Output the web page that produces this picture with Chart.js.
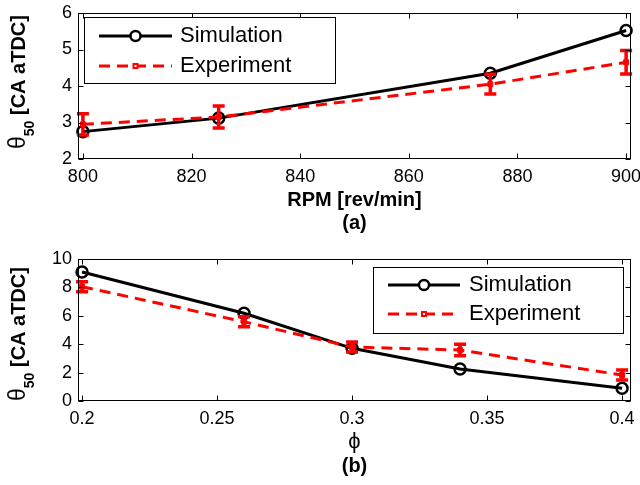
<!DOCTYPE html>
<html>
<head>
<meta charset="utf-8">
<script src="https://cdn.jsdelivr.net/npm/chart.js@4"></script>
<style>
  body { margin: 0; background: #fff; }
  canvas { display: block; }
</style>
</head>
<body>
<canvas id="chartA" width="640" height="240"></canvas>
<canvas id="chartB" width="640" height="245"></canvas>
<script>
// (a) theta50 vs engine speed
const rpm = [800, 825, 875, 900];
const simA = [2.75, 3.12, 4.35, 5.52];
const expA = [2.95, 3.15, 4.05, 4.65];
const errA = [0.29, 0.30, 0.27, 0.32];
const rpmTicks = [800, 820, 840, 860, 880, 900];
const thetaTicksA = [2, 3, 4, 5, 6];

// (b) theta50 vs equivalence ratio
const phi = [0.2, 0.26, 0.3, 0.34, 0.4];
const simB = [9.08, 6.18, 3.71, 2.25, 0.9];
const expB = [8.05, 5.58, 3.8, 3.59, 1.83];
const errB = [0.35, 0.35, 0.35, 0.4, 0.35];
const phiTicks = [0.2, 0.25, 0.3, 0.35, 0.4];
const thetaTicksB = [0, 2, 4, 6, 8, 10];

const seriesNames = ['Simulation', 'Experiment'];
const FONT = "'Liberation Sans', Arial, Helvetica, sans-serif";
Chart.defaults.font.family = FONT;
Chart.defaults.color = '#000';

// frame, inward ticks, error bars, legend box and axis titles
function decor(o) {
  return {
    id: 'decor',
    afterDatasetsDraw(chart) {
      const { ctx, scales: { x, y } } = chart;
      ctx.save();
      ctx.strokeStyle = '#ff0000';
      ctx.lineWidth = 3.5;
      o.xs.forEach((xv, i) => {
        const px = x.getPixelForValue(xv);
        const t = y.getPixelForValue(o.ys[i] + o.err[i]);
        const b = y.getPixelForValue(o.ys[i] - o.err[i]);
        ctx.beginPath();
        ctx.moveTo(px, t); ctx.lineTo(px, b);
        ctx.moveTo(px - 6, t); ctx.lineTo(px + 6, t);
        ctx.moveTo(px - 6, b); ctx.lineTo(px + 6, b);
        ctx.stroke();
      });
      ctx.restore();
    },
    afterDraw(chart) {
      const { ctx, chartArea: a, scales: { x, y } } = chart;
      ctx.save();
      ctx.strokeStyle = '#000';
      ctx.lineWidth = 1;
      const L = Math.round(a.left) + 0.5, R = Math.round(a.right) - 0.5;
      const T = Math.round(a.top) + 0.5, B = Math.round(a.bottom) - 0.5;
      ctx.strokeRect(L, T, R - L, B - T);
      ctx.beginPath();
      x.ticks.forEach(t => {
        const p = Math.round(x.getPixelForValue(t.value)) + 0.5;
        ctx.moveTo(p, B); ctx.lineTo(p, B - 5);
        ctx.moveTo(p, T); ctx.lineTo(p, T + 5);
      });
      y.ticks.forEach(t => {
        const p = Math.round(y.getPixelForValue(t.value)) + 0.5;
        ctx.moveTo(L, p); ctx.lineTo(L + 5, p);
        ctx.moveTo(R, p); ctx.lineTo(R - 5, p);
      });
      ctx.stroke();

      // legend
      const g = o.legend;
      ctx.fillStyle = '#fff';
      ctx.fillRect(g.x, g.y, g.w, g.h);
      ctx.strokeRect(g.x + 0.5, g.y + 0.5, g.w, g.h);
      ctx.lineWidth = 3;
      ctx.strokeStyle = '#000';
      ctx.beginPath();
      ctx.moveTo(g.lx0, g.r1); ctx.lineTo(g.lx1, g.r1);
      ctx.stroke();
      ctx.lineWidth = 2.5;
      ctx.fillStyle = '#fff';
      ctx.beginPath();
      ctx.arc((g.lx0 + g.lx1) / 2, g.r1, 5, 0, Math.PI * 2);
      ctx.fill(); ctx.stroke();
      ctx.strokeStyle = '#ff0000';
      ctx.lineWidth = 3;
      ctx.setLineDash([11, 7]);
      ctx.beginPath();
      ctx.moveTo(g.lx0, g.r2); ctx.lineTo(g.lx1, g.r2);
      ctx.stroke();
      ctx.setLineDash([]);
      ctx.lineWidth = 1;
      const mx = (g.lx0 + g.lx1) / 2;
      ctx.fillStyle = '#ff0000';
      ctx.fillRect(mx - 3, g.r2 - 3, 6, 6);
      ctx.fillStyle = '#fff';
      ctx.fillRect(mx - 1, g.r2 - 1, 2, 2);
      ctx.fillStyle = '#000';
      ctx.font = '22px ' + FONT;
      ctx.textBaseline = 'middle';
      ctx.textAlign = 'left';
      ctx.fillText(seriesNames[0], g.tx, g.r1);
      ctx.fillText(seriesNames[1], g.tx, g.r2);

      // x title and panel tag
      const cx = (a.left + a.right) / 2;
      ctx.textAlign = 'center';
      ctx.font = o.xBold ? 'bold 20px ' + FONT : '22px ' + FONT;
      ctx.fillText(o.xTitle, cx, o.xTitleY);
      ctx.font = 'bold 20px ' + FONT;
      ctx.fillText(o.tag, cx, o.tagY);

      // y title: theta with bold subscript 50
      const cy = (a.top + a.bottom) / 2 + o.yShift;
      const parts = [
        { s: '\u03b8', f: '23px ' + FONT, d: 0 },
        { s: '50', f: 'bold 14px ' + FONT, d: 9 },
        { s: ' [CA aTDC]', f: 'bold 20px ' + FONT, d: 0 }
      ];
      let w = 0;
      parts.forEach(p => { ctx.font = p.f; p.w = ctx.measureText(p.s).width; w += p.w; });
      ctx.translate(25, cy);
      ctx.rotate(-Math.PI / 2);
      ctx.textAlign = 'left';
      ctx.textBaseline = 'alphabetic';
      let px = -w / 2;
      parts.forEach(p => { ctx.font = p.f; ctx.fillText(p.s, px, p.d); px += p.w; });
      ctx.restore();
    }
  };
}

function buildChart(id, xs, sim, exp, xTicks, yTicks, lim, xH, padTop, deco) {
  const tickFont = { size: 18 };
  return new Chart(document.getElementById(id), {
    type: 'line',
    data: {
      datasets: [
        {
          label: seriesNames[0],
          data: xs.map((v, i) => ({ x: v, y: sim[i] })),
          borderColor: '#000', borderWidth: 3,
          pointStyle: 'circle', pointRadius: 5.5, pointBorderWidth: 2.5,
          pointBorderColor: '#000', pointBackgroundColor: 'rgba(0,0,0,0)',
          tension: 0, clip: false, order: 2
        },
        {
          label: seriesNames[1],
          data: xs.map((v, i) => ({ x: v, y: exp[i] })),
          borderColor: '#ff0000', borderWidth: 3, borderDash: [11, 7],
          pointStyle: 'rect', pointRadius: 3.5, pointBorderWidth: 1,
          pointBorderColor: '#ff0000', pointBackgroundColor: '#ff0000',
          tension: 0, clip: false, order: 1
        }
      ]
    },
    options: {
      responsive: false,
      animation: false,
      devicePixelRatio: 1,
      layout: { padding: { top: padTop, right: 9, left: 0, bottom: 0 } },
      plugins: { legend: { display: false }, tooltip: { enabled: false } },
      scales: {
        x: {
          type: 'linear', min: lim[0], max: lim[1],
          afterBuildTicks: s => { s.ticks = xTicks.map(v => ({ value: v })); },
          afterFit: s => { s.height = xH; s.paddingLeft = 0; s.paddingRight = 0; },
          grid: { display: false, drawTicks: false },
          border: { display: false },
          ticks: { font: tickFont, padding: 7, maxRotation: 0, autoSkip: false, callback: v => String(v) }
        },
        y: {
          type: 'linear', min: lim[2], max: lim[3],
          afterBuildTicks: s => { s.ticks = yTicks.map(v => ({ value: v })); },
          afterFit: s => { s.width = 78; s.paddingTop = 0; s.paddingBottom = 0; },
          grid: { display: false, drawTicks: false },
          border: { display: false },
          ticks: { font: tickFont, padding: 6, autoSkip: false, callback: v => String(v) }
        }
      }
    },
    plugins: [deco]
  });
}

buildChart('chartA', rpm, simA, expA, rpmTicks, thetaTicksA,
  [799.1, 900.9, 2, 6], 81, 13,
  decor({
    xs: rpm, ys: expA, err: errA,
    legend: { x: 84, y: 17, w: 251, h: 66, lx0: 99, lx1: 172, tx: 180, r1: 36, r2: 66 },
    xTitle: 'RPM [rev/min]', xBold: true, xTitleY: 200, tag: '(a)', tagY: 223, yShift: -4
  }));

buildChart('chartB', phi, simB, expB, phiTicks, thetaTicksB,
  [0.1985, 0.4033, 0, 10], 84, 19,
  decor({
    xs: phi, ys: expB, err: errB,
    legend: { x: 373, y: 27, w: 250, h: 66, lx0: 388, lx1: 460, tx: 469, r1: 45, r2: 74 },
    xTitle: '\u03d5', xBold: false, xTitleY: 202, tag: '(b)', tagY: 226, yShift: 4
  }));
</script>
</body>
</html>
